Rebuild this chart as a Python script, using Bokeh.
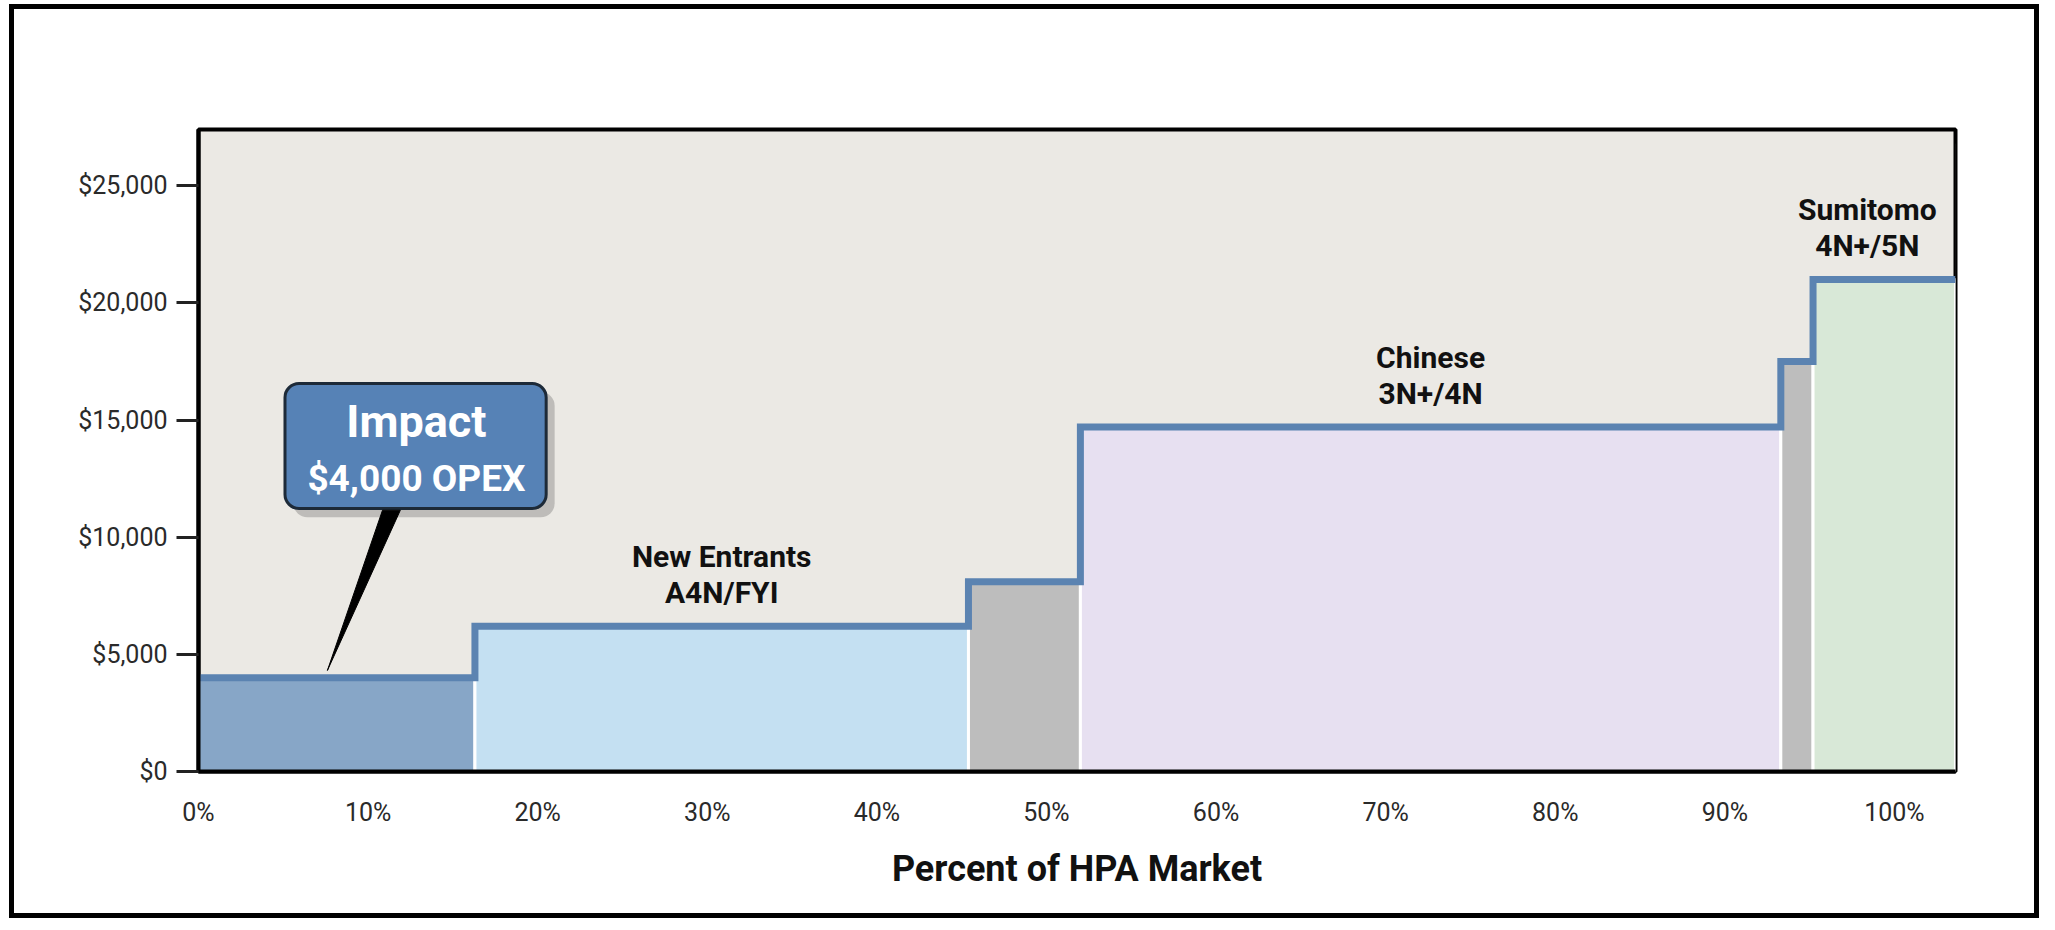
import numpy as np
from bokeh.plotting import figure
from bokeh.models import (Range1d, FixedTicker, NumeralTickFormatter, PrintfTickFormatter,
                          BoxAnnotation, ColumnDataSource)
from bokeh.core.properties import value
from bokeh.embed import file_html
from bokeh.resources import INLINE

# ---------------- data ----------------
segments = ["Impact", "New Entrants", "Other A", "Chinese", "Other B", "Sumitomo"]
market_share = [16.3, 29.1, 6.6, 41.3, 1.9, 8.4]          # percent of HPA market (width)
cost = [4000, 6200, 8100, 14700, 17500, 21000]             # $ per tonne
fill_colors = ["#87a6c7", "#c4e0f2", "#bdbdbd", "#e7e0f1", "#bdbdbd", "#d8e8d7"]

label_top = ["New Entrants", "Chinese", "Sumitomo"]
label_bottom = ["A4N/FYI", "3N+/4N", "4N+/5N"]
label_segment = [1, 3, 5]

y_ticks = [0, 5000, 10000, 15000, 20000, 25000]
x_ticks = [0, 10, 20, 30, 40, 50, 60, 70, 80, 90, 100]

callout_lines = ["Impact", "$4,000 OPEX"]

# ---------------- derived ----------------
right = np.cumsum(market_share)
left = right - np.array(market_share)
edges = list(left) + [right[-1]]
step_y = cost + [cost[-1]]
X_END = right[-1]
Y_END = 27400

FONT = "Roboto"

p = figure(width=2030, height=914, output_backend="svg", toolbar_location=None,
           x_range=Range1d(0, X_END), y_range=Range1d(0, Y_END),
           min_border_left=184, min_border_top=120, min_border_right=89, min_border_bottom=152,
           styles={"border": "5px solid black", "margin": "4px 0 0 9px"})
p.background_fill_color = "#ebe9e4"
p.border_fill_color = "white"
p.outline_line_color = "black"
p.outline_line_width = 4
p.grid.visible = False

# soft drop shadow of the plot frame (right and bottom strips)
px_x = X_END / 1756.0
px_y = Y_END / 642.0
for w in (6, 11, 16, 22):
    p.add_layout(BoxAnnotation(left=X_END, right=X_END + w * px_x, top=Y_END - 14 * px_y,
                               bottom=-w * px_y, fill_color="#7a7a7a", fill_alpha=0.13,
                               line_color=None, level="underlay"))
    p.add_layout(BoxAnnotation(left=16 * px_x, right=X_END, top=0, bottom=-w * px_y,
                               fill_color="#7a7a7a", fill_alpha=0.13,
                               line_color=None, level="underlay"))

src = ColumnDataSource(dict(left=left, right=right, top=cost, bottom=[0] * len(cost),
                            color=fill_colors, name=segments))
p.quad(left="left", right="right", top="top", bottom="bottom", fill_color="color",
       line_color="white", line_width=3, source=src)

p.step(x=edges, y=step_y, mode="after", line_color="#5b83b1", line_width=7,
       line_join="miter")

# segment labels
for t, b, s in zip(label_top, label_bottom, label_segment):
    cx = (left[s] + right[s]) / 2
    if s == 5:
        cx = left[s] + 3.2
    for txt, off in ((t, -70), (b, -34)):
        p.text(x=[cx], y=[cost[s]], text=[txt], text_align="center", text_baseline="middle",
               y_offset=off, text_font=value(FONT), text_font_style="bold",
               text_font_size="30px", text_color="#111111")

# callout box shadow + box (underlay so that the text glyphs draw over them)
p.add_layout(BoxAnnotation(left=5.6, right=21.0, top=16200, bottom=10850,
                           fill_color="#555555", fill_alpha=0.3, line_color=None,
                           border_radius=14, level="underlay"))
p.add_layout(BoxAnnotation(left=5.1, right=20.5, top=16560, bottom=11225,
                           fill_color="#5682b6", fill_alpha=1.0, line_color="#1d2a38",
                           line_width=3, line_alpha=1.0, border_radius=14, level="underlay"))
# callout pointer
p.patch(x=[10.85, 11.9, 7.6], y=[11150, 11150, cost[0] + 310], fill_color="black",
        line_color="black", line_width=1)
p.text(x=[12.85], y=[14940], text=[callout_lines[0]], text_align="center",
       text_baseline="middle", text_font=value(FONT), text_font_style="bold",
       text_font_size="45px", text_color="white")
p.text(x=[12.85], y=[12500], text=[callout_lines[1]], text_align="center",
       text_baseline="middle", text_font=value(FONT), text_font_style="bold",
       text_font_size="37px", text_color="white")

# axes
ya = p.yaxis[0]
ya.ticker = FixedTicker(ticks=y_ticks)
ya.formatter = NumeralTickFormatter(format="$0,0")
ya.major_label_text_font = FONT
ya.major_label_text_font_size = "25px"
ya.major_label_text_color = "#2a2a2a"
ya.major_tick_out = 22
ya.major_tick_in = 0
ya.major_tick_line_width = 3
ya.major_tick_line_color = "#222222"
ya.minor_tick_line_color = None
ya.axis_line_color = "black"
ya.axis_line_width = 4
ya.major_label_standoff = 9

xa = p.xaxis[0]
xa.ticker = FixedTicker(ticks=x_ticks)
xa.formatter = PrintfTickFormatter(format="%d%%")
xa.major_label_text_font = FONT
xa.major_label_text_font_size = "25px"
xa.major_label_text_color = "#2a2a2a"
xa.major_tick_out = 0
xa.major_tick_in = 0
xa.major_tick_line_color = None
xa.minor_tick_line_color = None
xa.axis_line_color = "black"
xa.axis_line_width = 4
xa.major_label_standoff = 26
xa.axis_label = "Percent of HPA Market"
xa.axis_label_text_font = FONT
xa.axis_label_text_font_style = "bold"
xa.axis_label_text_font_size = "36px"
xa.axis_label_text_color = "#111111"
xa.axis_label_standoff = 18

open("out.html", "w").write(file_html(p, INLINE))
